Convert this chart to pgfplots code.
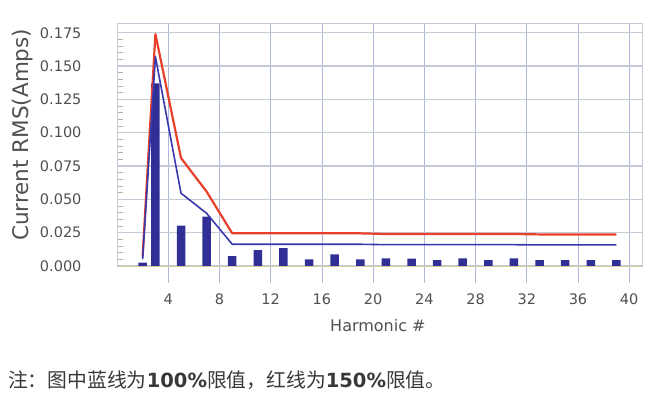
\documentclass[border=0pt]{standalone}
\usepackage{fontspec}
\usepackage{pgfplots}
\pgfplotsset{compat=1.18}
\setmainfont{DejaVu Sans}
\newfontfamily\cjk{Noto Sans CJK SC}
\newfontfamily\dejab{DejaVu Sans}
\definecolor{barblue}{HTML}{2F2F96}
\definecolor{lineblue}{HTML}{3838AC}
\definecolor{linered}{HTML}{E8402A}
\definecolor{vgrid}{HTML}{AEB9DA}
\definecolor{hgrid}{HTML}{C6CAD6}
\definecolor{zeroline}{HTML}{D9CC9A}
\definecolor{labgray}{HTML}{505050}
\begin{document}
\begin{tikzpicture}
\useasboundingbox (-117bp,-140bp) rectangle (545bp,266bp);
\begin{axis}[
  at={(0,0)}, anchor=south west,
  scale only axis, width=525bp, height=243bp,
  xmin=0, xmax=41, ymin=0, ymax=0.1823,
  xtick={4,8,...,40},
  ytick={0,0.025,...,0.176},
  minor y tick num=4,
  tick pos=left,
  major tick length=17bp, minor tick length=6bp,
  xtick align=outside, ytick align=inside,
  xtick style={draw=vgrid, line width=0.6bp},
  major y tick style={draw=none},
  minor y tick style={draw=gray!60, line width=0.5bp},
  grid=major,
  x grid style={draw=vgrid, line width=0.7bp},
  y grid style={draw=hgrid, line width=1.3bp},
  axis line style={draw=hgrid, line width=0.8bp},
  ticklabel style={font=\fontsize{14.5bp}{17bp}\selectfont, text=labgray},
  yticklabel style={xshift=-32bp, /pgf/number format/.cd, fixed, fixed zerofill, precision=3, assume math mode=true},
  xticklabel style={yshift=-7bp, /pgf/number format/.cd, fixed, precision=0, assume math mode=true},
  xlabel={Harmonic \#},
  ylabel={Current RMS(Amps)},
  xlabel style={font=\fontsize{16bp}{19bp}\selectfont, text=labgray, at={(axis description cs:0.497,-0.243)}, anchor=center},
  ylabel style={font=\fontsize{21.5bp}{24bp}\selectfont, text=labgray, at={(axis description cs:-0.179,0.54)}, anchor=center},
]
\addplot[ybar, bar width=8.5bp, fill=barblue, draw=none] coordinates {
(2,0.0025) (3,0.137) (5,0.0303) (7,0.037) (9,0.0075) (11,0.012) (13,0.0135)
(15,0.005) (17,0.0088) (19,0.005) (21,0.0058) (23,0.0055) (25,0.0045)
(27,0.0058) (29,0.0045) (31,0.0058) (33,0.0045) (35,0.0045) (37,0.0045) (39,0.0045)
};
\draw[zeroline, line width=1bp] (axis cs:0,0) -- (axis cs:41,0);
\addplot[linered, line width=2.2bp, line join=round] coordinates {
(2,0.007) (3,0.174) (5,0.081) (7,0.0558) (9,0.0245) (11,0.0245) (13,0.0245)
(15,0.0245) (17,0.0245) (19,0.0245) (21,0.024) (23,0.024) (25,0.024) (27,0.024)
(29,0.024) (31,0.024) (33,0.0237) (35,0.0237) (37,0.0237) (39,0.0237)
};
\addplot[lineblue, line width=1.6bp, line join=round] coordinates {
(2,0.005) (3,0.157) (5,0.0546) (7,0.0395) (9,0.0163) (11,0.0163) (13,0.0163)
(15,0.0163) (17,0.0163) (19,0.0163) (21,0.016) (23,0.016) (25,0.016) (27,0.016)
(29,0.016) (31,0.016) (33,0.0158) (35,0.0158) (37,0.0158) (39,0.0158)
};
\end{axis}
\node[anchor=west, inner sep=0pt, text=black!78] at (-109bp,-114bp)
  {\cjk\fontsize{19.8bp}{22bp}\selectfont 注：图中蓝线为{\dejab\bfseries\fontsize{19.5bp}{22bp}\selectfont 100\%}限值，红线为{\dejab\bfseries\fontsize{19.5bp}{22bp}\selectfont 150\%}限值。};
\end{tikzpicture}
\end{document}
